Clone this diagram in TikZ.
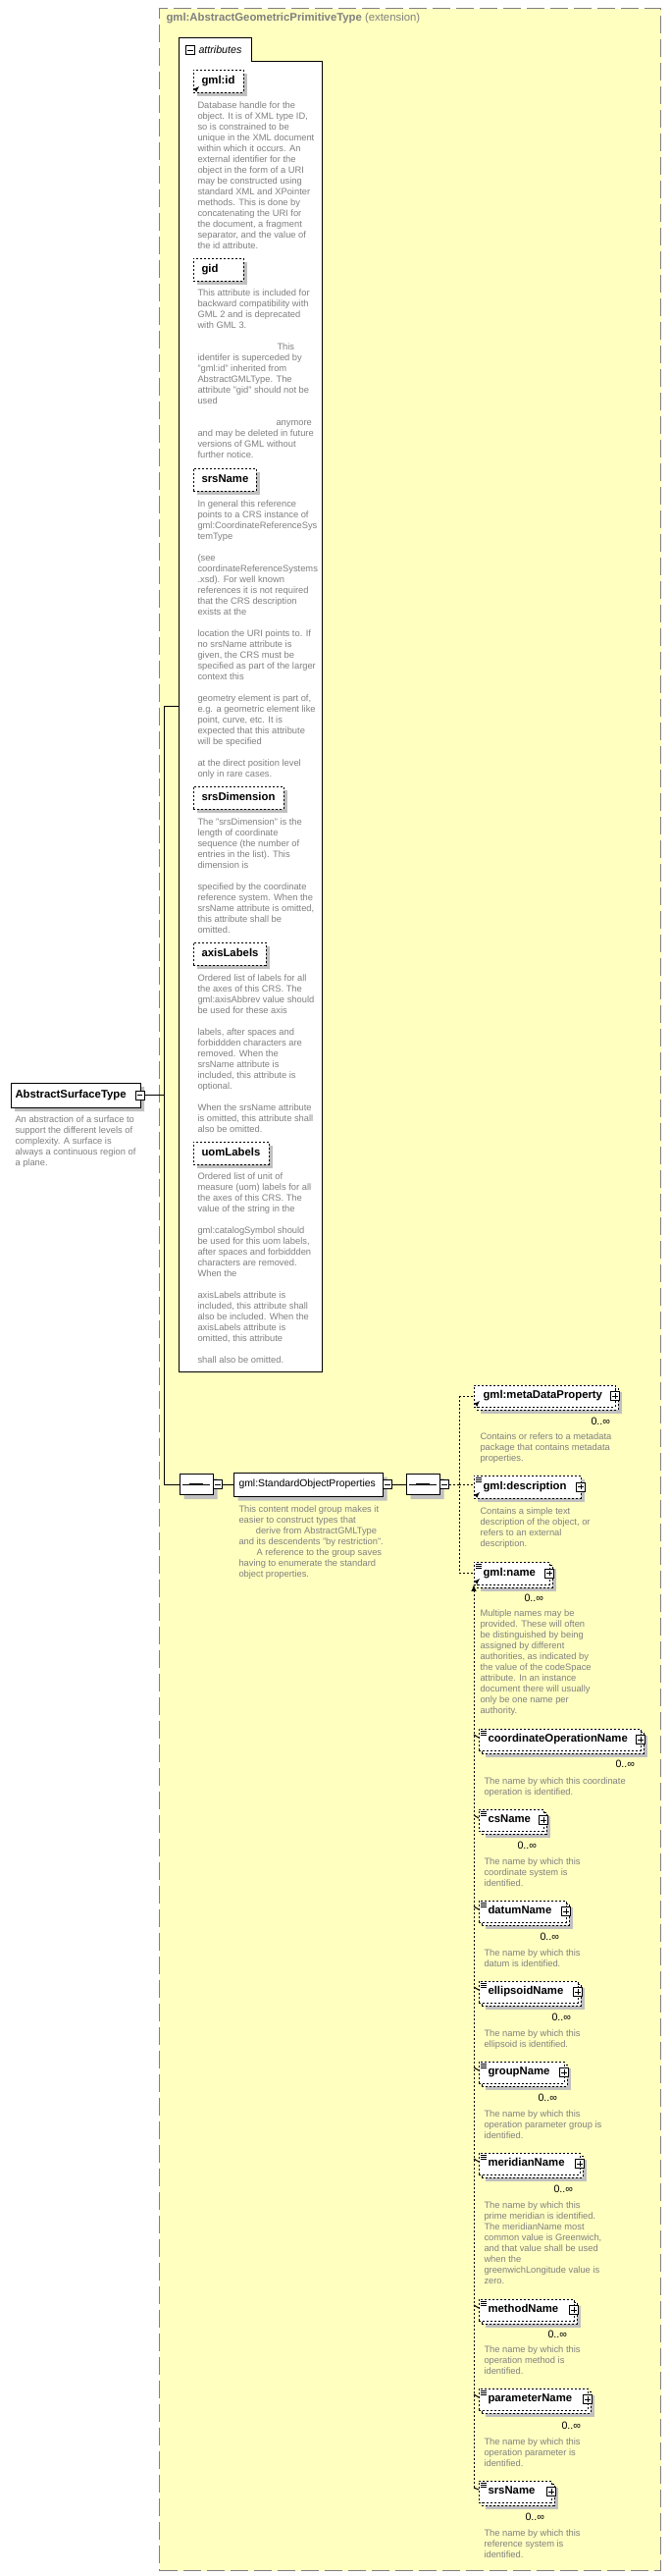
\documentclass[tikz,border=0pt]{standalone}
\usepackage{fontspec}
\setmainfont{Liberation Sans}
\usepackage{tikz}
\usetikzlibrary{shapes,arrows}
\usetikzlibrary{shadows}
\usetikzlibrary{calc}
\definecolor{bgyellow}{RGB}{255,255,192}
\definecolor{framegray}{RGB}{128,128,128}
\definecolor{descgray}{RGB}{128,128,128}
\definecolor{shadegray}{RGB}{192,192,192}
\tikzstyle{every path}=[line width=0.75pt]
\tikzstyle{desc}=[anchor=north west,inner sep=0,align=left,text=descgray,font=\fontsize{7}{8.25}\selectfont]
\tikzstyle{lbl}=[anchor=west,inner sep=0,font=\bfseries\fontsize{8.5}{10}\selectfont,text height=6.2pt,text depth=1.8pt]
\tikzstyle{mult}=[anchor=west,inner sep=0,font=\fontsize{8}{10}\selectfont]
\tikzstyle{extframe}=[draw=framegray,line width=1pt,dash pattern=on 13.5pt off 4.5pt,fill=bgyellow,inner sep=0,anchor=north west]
\tikzstyle{attbox}=[draw,dash pattern=on 1.5pt off 1.5pt,fill=white,inner sep=0,outer sep=0,anchor=north west,general shadow={fill=shadegray,shadow xshift=3pt,shadow yshift=-3pt}]
\tikzstyle{multibox}=[draw,dash pattern=on 1.5pt off 1.5pt,fill=white,inner sep=0,outer sep=0,anchor=north west,general shadow={fill=shadegray,shadow xshift=5pt,shadow yshift=-5pt},general shadow={draw,fill=white,shadow xshift=2.25pt,shadow yshift=-2.25pt}]
\tikzstyle{cplxbox}=[chamfered rectangle,chamfered rectangle corners={north west,south west},chamfered rectangle xsep=3pt,draw,solid,fill=white,inner sep=0,general shadow={fill=shadegray,shadow xshift=3pt,shadow yshift=-3pt}]
\tikzstyle{grpbox}=[chamfered rectangle,chamfered rectangle xsep=3pt,draw,solid,fill=white,inner sep=0,general shadow={fill=shadegray,shadow xshift=3.5pt,shadow yshift=-3.5pt}]
\tikzstyle{seqbox}=[chamfered rectangle,chamfered rectangle xsep=4pt,draw,solid,fill=white,inner sep=0,general shadow={fill=shadegray,shadow xshift=3.5pt,shadow yshift=-3.5pt},path picture={\draw[black] ([xshift=2.5pt]path picture bounding box.west) -- ([xshift=-2.5pt]path picture bounding box.east); \fill[black] ([xshift=-5pt,yshift=-1.1pt]path picture bounding box.center) rectangle ([xshift=5pt,yshift=1.1pt]path picture bounding box.center);}]
\tikzstyle{mbox}=[draw,solid,fill=white,minimum size=6.75pt,inner sep=0,line width=0.6pt,path picture={\draw[black,line width=0.6pt] ([xshift=1.2pt]path picture bounding box.west) -- ([xshift=-1.2pt]path picture bounding box.east);}]
\tikzstyle{pbox}=[draw,solid,fill=white,minimum size=6.75pt,inner sep=0,line width=0.6pt,path picture={\draw[black,line width=0.6pt] ([xshift=1.2pt]path picture bounding box.west) -- ([xshift=-1.2pt]path picture bounding box.east) ([yshift=-1.2pt]path picture bounding box.north) -- ([yshift=1.2pt]path picture bounding box.south);}]
\tikzstyle{conn}=[dash pattern=on 1.5pt off 1.5pt]
\tikzstyle{refarrow}=[-latex,line width=0.5pt,solid]
\tikzstyle{docicon}=[line width=0.5pt,solid]
\begin{document}
\begin{tikzpicture}[x=0.75pt,y=-0.75pt]
\useasboundingbox (0,0) rectangle (684,2624);

\node[extframe,minimum width=511*0.75pt,minimum height=2610*0.75pt] (ext) at (162,8) {};
\node[anchor=west,inner sep=0,text=framegray,font=\fontsize{8.5}{10}\selectfont] (exttitle) at (169,19) {\textbf{gml:AbstractGeometricPrimitiveType} (extension)};

\draw[fill=white] (182,38) -| (256,62) -| (328,1397) -| (182,38) -- cycle;
\coordinate (attin) at (182,719);
\node[mbox] (attm) at (194,51) {};
\node[anchor=west,inner sep=0,font=\itshape\fontsize{8}{10}\selectfont] (attlbl) at (202,51) {attributes};

\node[attbox,minimum width=51*0.75pt,minimum height=23*0.75pt] (gmlid) at (197,71) {};
\node[lbl] (gmlidl) at (205,82.5) {gml:id};
\draw[refarrow] ([shift={(2,-2)}]gmlid.south west) -- ++(4,-4);
\node[desc] (gmlidd) at (201,103) {Database handle for the\\ object.  It is of XML type ID,\\ so is constrained to be\\ unique in the XML document\\ within which it occurs.  An\\ external identifier for the\\ object in the form of a URI\\ may be constructed using\\ standard XML and XPointer\\ methods.  This is done by\\ concatenating the URI for\\ the document, a fragment\\ separator, and the value of\\ the id attribute.};

\node[attbox,minimum width=51*0.75pt,minimum height=23*0.75pt] (gid) at (197,263) {};
\node[lbl] (gidl) at (205,274.5) {gid};
\node[desc] (gidd) at (201,294) {This attribute is included for\\ backward compatibility with\\ GML 2 and is deprecated\\ with GML 3.\\[8.25pt]\hspace*{60.75pt}This\\ identifer is superceded by\\ "gml:id" inherited from\\ AbstractGMLType. The\\ attribute "gid" should not be\\ used\\[8.25pt]\hspace*{60pt}anymore\\ and may be deleted in future\\ versions of GML without\\ further notice.};

\node[attbox,minimum width=64*0.75pt,minimum height=23*0.75pt] (srsname) at (197,477) {};
\node[lbl] (srsnamel) at (205,488.5) {srsName};
\node[desc] (srsnamed) at (201,509) {In general this reference\\ points to a CRS instance of\\ gml:CoordinateReferenceSys\\ temType\\[8.25pt]{}(see\\ coordinateReferenceSystems\\ .xsd). For well known\\ references it is not required\\ that the CRS description\\ exists at the\\[8.25pt]{}location the URI points to. If\\ no srsName attribute is\\ given, the CRS must be\\ specified as part of the larger\\ context this\\[8.25pt]{}geometry element is part of,\\ e.g. a geometric element like\\ point, curve, etc. It is\\ expected that this attribute\\ will be specified\\[8.25pt]{}at the direct position level\\ only in rare cases.};

\node[attbox,minimum width=92*0.75pt,minimum height=23*0.75pt] (srsdim) at (197,801) {};
\node[lbl] (srsdiml) at (205,812.5) {srsDimension};
\node[desc] (srsdimd) at (201,833) {The "srsDimension" is the\\ length of coordinate\\ sequence (the number of\\ entries in the list). This\\ dimension is\\[8.25pt]{}specified by the coordinate\\ reference system. When the\\ srsName attribute is omitted,\\ this attribute shall be\\ omitted.};

\node[attbox,minimum width=74*0.75pt,minimum height=23*0.75pt] (axislab) at (197,960) {};
\node[lbl] (axislabl) at (205,971.5) {axisLabels};
\node[desc] (axislabd) at (201,992) {Ordered list of labels for all\\ the axes of this CRS. The\\ gml:axisAbbrev value should\\ be used for these axis\\[8.25pt]{}labels, after spaces and\\ forbiddden characters are\\ removed. When the\\ srsName attribute is\\ included, this attribute is\\ optional.\\[8.25pt]{}When the srsName attribute\\ is omitted, this attribute shall\\ also be omitted.};

\node[attbox,minimum width=77*0.75pt,minimum height=23*0.75pt] (uomlab) at (197,1163) {};
\node[lbl] (uomlabl) at (205,1174.5) {uomLabels};
\node[desc] (uomlabd) at (201,1194) {Ordered list of unit of\\ measure (uom) labels for all\\ the axes of this CRS. The\\ value of the string in the\\[8.25pt]{}gml:catalogSymbol should\\ be used for this uom labels,\\ after spaces and forbiddden\\ characters are removed.\\ When the\\[8.25pt]{}axisLabels attribute is\\ included, this attribute shall\\ also be included. When the\\ axisLabels attribute is\\ omitted, this attribute\\[8.25pt]{}shall also be omitted.};

\node[cplxbox,minimum width=132*0.75pt,minimum height=25*0.75pt] (ast) at (77,1115.5) {};
\node[lbl] (astl) at (15,1115.5) {AbstractSurfaceType};
\node[mbox] (astm) at (142.5,1115.5) {};
\node[desc] (astd) at (15,1136) {An abstraction of a surface to\\ support the different levels of\\ complexity. A surface is\\ always a continuous region of\\ a plane.};

\coordinate (trunk) at (167,1115.5);
\node[seqbox,minimum width=34*0.75pt,minimum height=21*0.75pt] (seq1) at (200,1512) {};
\node[mbox] (seq1m) at (222,1512) {};
\draw (astm.east) -- (trunk);
\draw (attin) -- (attin -| trunk) -- (seq1.west -| trunk) -- (seq1.west);

\node[grpbox,minimum width=152*0.75pt,minimum height=24*0.75pt] (grp) at (314,1512) {};
\node[anchor=west,inner sep=0,font=\fontsize{7.8}{10}\selectfont] (grpl) at (243,1512) {gml:StandardObjectProperties};
\node[mbox] (grpm) at (395,1512) {};
\draw (seq1m.east) -- (grp.west);
\node[desc] (grpd) at (243,1533) {This content model group makes it\\ easier to construct types that\\ \hspace*{13pt}derive from AbstractGMLType\\ and its descendents "by restriction".\\ \hspace*{13.5pt}A reference to the group saves\\ having to enumerate the standard\\ object properties.};

\node[seqbox,minimum width=34*0.75pt,minimum height=21*0.75pt] (seq2) at (431,1512) {};
\node[mbox] (seq2m) at (453,1512) {};
\draw (grpm.east) -- (seq2.west);

\node[multibox,minimum width=144*0.75pt,minimum height=22*0.75pt] (mdp) at (483,1411) {};
\node[lbl] (mdpl) at (492,1422) {gml:metaDataProperty};
\node[pbox] (mdpp) at (mdp.east) {};
\draw[refarrow] ([shift={(2,-2)}]mdp.south west) -- ++(4,-4);
\node[mult] (mdpm) at (602,1448) {0..∞};
\node[desc] (mdpd) at (489,1459) {Contains or refers to a metadata\\ package that contains metadata\\ properties.};

\node[attbox,minimum width=109*0.75pt,minimum height=23*0.75pt] (descr) at (483,1503) {};
\node[lbl] (descrl) at (492,1514.5) {gml:description};
\node[pbox] (descrp) at (descr.east) {};
\draw[refarrow] ([shift={(2,-2)}]descr.south west) -- ++(4,-4);
\draw[docicon] ([shift={(2,2)}]descr.north west) -- ++(6,0) ([shift={(2,4)}]descr.north west) -- ++(6,0) ([shift={(2,6)}]descr.north west) -- ++(6,0);
\node[desc] (descrd) at (489,1535) {Contains a simple text\\ description of the object, or\\ refers to an external\\ description.};

\node[multibox,minimum width=77*0.75pt,minimum height=23*0.75pt] (name) at (483,1591) {};
\node[lbl] (namel) at (492,1602.5) {gml:name};
\node[pbox] (namep) at (name.east) {};
\draw[refarrow] ([shift={(2,-2)}]name.south west) -- ++(4,-4);
\draw[docicon] ([shift={(2,2)}]name.north west) -- ++(6,0) ([shift={(2,4)}]name.north west) -- ++(6,0) ([shift={(2,6)}]name.north west) -- ++(6,0);
\node[mult] (namem) at (534,1628) {0..∞};
\node[desc] (named) at (489,1639) {Multiple names may be\\ provided.  These will often\\ be distinguished by being\\ assigned by different\\ authorities, as indicated by\\ the value of the codeSpace\\ attribute.  In an instance\\ document there will usually\\ only be one name per\\ authority.};

\coordinate (fork) at (468,1512);
\draw[conn] (seq2m.east) -- (fork);
\draw[conn] (mdp.west -| fork) -- (name.west -| fork);
\draw[conn] (mdp.west -| fork) -- (mdp.west);
\draw[conn] (fork) -- (fork -| descr.west);
\draw[conn] (name.west -| fork) -- (name.west);

\node[multibox,minimum width=165*0.75pt,minimum height=22*0.75pt] (coordop) at (488,1761) {};
\node[lbl] (coordopl) at (497,1772) {coordinateOperationName};
\node[pbox] (coordopp) at (coordop.east) {};
\draw[docicon] ([shift={(2,2)}]coordop.north west) -- ++(6,0) ([shift={(2,4)}]coordop.north west) -- ++(6,0) ([shift={(2,6)}]coordop.north west) -- ++(6,0);
\node[mult] (coordopm) at (627,1797) {0..∞};
\node[desc] (coordopd) at (493,1810) {The name by which this coordinate\\ operation is identified.};

\node[multibox,minimum width=66*0.75pt,minimum height=22*0.75pt] (csname) at (488,1843) {};
\node[lbl] (csnamel) at (497,1854) {csName};
\node[pbox] (csnamep) at (csname.east) {};
\draw[docicon] ([shift={(2,2)}]csname.north west) -- ++(6,0) ([shift={(2,4)}]csname.north west) -- ++(6,0) ([shift={(2,6)}]csname.north west) -- ++(6,0);
\node[mult] (csnamem) at (527,1880) {0..∞};
\node[desc] (csnamed) at (493,1892) {The name by which this\\ coordinate system is\\ identified.};

\node[multibox,minimum width=89*0.75pt,minimum height=22*0.75pt] (datum) at (488,1936) {};
\node[lbl] (datuml) at (497,1947) {datumName};
\node[pbox] (datump) at (datum.east) {};
\draw[docicon] ([shift={(2,2)}]datum.north west) -- ++(6,0) ([shift={(2,4)}]datum.north west) -- ++(6,0) ([shift={(2,6)}]datum.north west) -- ++(6,0);
\node[mult] (datumm) at (550,1973) {0..∞};
\node[desc] (datumd) at (493,1985) {The name by which this\\ datum is identified.};

\node[multibox,minimum width=101*0.75pt,minimum height=22*0.75pt] (ellip) at (488,2018) {};
\node[lbl] (ellipl) at (497,2029) {ellipsoidName};
\node[pbox] (ellipp) at (ellip.east) {};
\draw[docicon] ([shift={(2,2)}]ellip.north west) -- ++(6,0) ([shift={(2,4)}]ellip.north west) -- ++(6,0) ([shift={(2,6)}]ellip.north west) -- ++(6,0);
\node[mult] (ellipm) at (562,2055) {0..∞};
\node[desc] (ellipd) at (493,2067) {The name by which this\\ ellipsoid is identified.};

\node[multibox,minimum width=87*0.75pt,minimum height=22*0.75pt] (group) at (488,2100) {};
\node[lbl] (groupl) at (497,2111) {groupName};
\node[pbox] (groupp) at (group.east) {};
\draw[docicon] ([shift={(2,2)}]group.north west) -- ++(6,0) ([shift={(2,4)}]group.north west) -- ++(6,0) ([shift={(2,6)}]group.north west) -- ++(6,0);
\node[mult] (groupm) at (548,2137) {0..∞};
\node[desc] (groupd) at (493,2149) {The name by which this\\ operation parameter group is\\ identified.};

\node[multibox,minimum width=103*0.75pt,minimum height=22*0.75pt] (merid) at (488,2193) {};
\node[lbl] (meridl) at (497,2204) {meridianName};
\node[pbox] (meridp) at (merid.east) {};
\draw[docicon] ([shift={(2,2)}]merid.north west) -- ++(6,0) ([shift={(2,4)}]merid.north west) -- ++(6,0) ([shift={(2,6)}]merid.north west) -- ++(6,0);
\node[mult] (meridm) at (564,2230) {0..∞};
\node[desc] (meridd) at (493,2242) {The name by which this\\ prime meridian is identified.\\ The meridianName most\\ common value is Greenwich,\\ and that value shall be used\\ when the\\ greenwichLongitude value is\\ zero.};

\node[multibox,minimum width=97*0.75pt,minimum height=22*0.75pt] (method) at (488,2342) {};
\node[lbl] (methodl) at (497,2353) {methodName};
\node[pbox] (methodp) at (method.east) {};
\draw[docicon] ([shift={(2,2)}]method.north west) -- ++(6,0) ([shift={(2,4)}]method.north west) -- ++(6,0) ([shift={(2,6)}]method.north west) -- ++(6,0);
\node[mult] (methodm) at (558,2378) {0..∞};
\node[desc] (methodd) at (493,2389) {The name by which this\\ operation method is\\ identified.};

\node[multibox,minimum width=111*0.75pt,minimum height=22*0.75pt] (param) at (488,2433) {};
\node[lbl] (paraml) at (497,2444) {parameterName};
\node[pbox] (paramp) at (param.east) {};
\draw[docicon] ([shift={(2,2)}]param.north west) -- ++(6,0) ([shift={(2,4)}]param.north west) -- ++(6,0) ([shift={(2,6)}]param.north west) -- ++(6,0);
\node[mult] (paramm) at (572,2471) {0..∞};
\node[desc] (paramd) at (493,2483) {The name by which this\\ operation parameter is\\ identified.};

\node[multibox,minimum width=74*0.75pt,minimum height=22*0.75pt] (srsname2) at (488,2527) {};
\node[lbl] (srsname2l) at (497,2538) {srsName};
\node[pbox] (srsname2p) at (srsname2.east) {};
\draw[docicon] ([shift={(2,2)}]srsname2.north west) -- ++(6,0) ([shift={(2,4)}]srsname2.north west) -- ++(6,0) ([shift={(2,6)}]srsname2.north west) -- ++(6,0);
\node[mult] (srsname2m) at (535,2564) {0..∞};
\node[desc] (srsname2d) at (493,2576) {The name by which this\\ reference system is\\ identified.};

\coordinate (subend) at (483,2534);
\draw[conn,-latex] (subend) -- (name.south west);
\draw ($(coordop.north west)+(-5,6)$) -- ($(coordop.north west)+(0,9)$);
\draw ($(csname.north west)+(-5,6)$) -- ($(csname.north west)+(0,9)$);
\draw ($(datum.north west)+(-5,6)$) -- ($(datum.north west)+(0,9)$);
\draw ($(ellip.north west)+(-5,6)$) -- ($(ellip.north west)+(0,9)$);
\draw ($(group.north west)+(-5,6)$) -- ($(group.north west)+(0,9)$);
\draw ($(merid.north west)+(-5,6)$) -- ($(merid.north west)+(0,9)$);
\draw ($(method.north west)+(-5,6)$) -- ($(method.north west)+(0,9)$);
\draw ($(param.north west)+(-5,6)$) -- ($(param.north west)+(0,9)$);
\draw (subend) -- ($(srsname2.north west)+(0,9)$);

\end{tikzpicture}
\end{document}
